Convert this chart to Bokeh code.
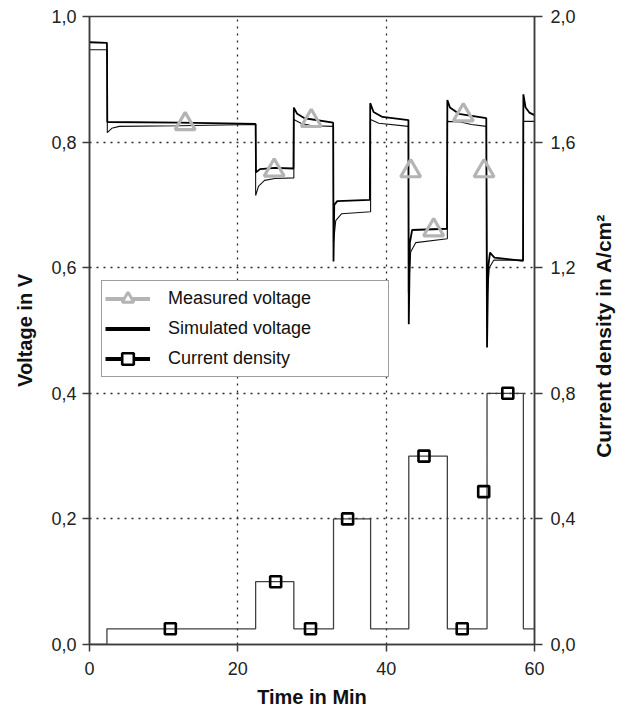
from math import pi

from bokeh.embed import file_html
from bokeh.models import (CustomJSTickFormatter, FixedTicker, Legend,
                          LegendItem, LinearAxis, Range1d)
from bokeh.plotting import figure
from bokeh.resources import INLINE

# ---- measured cell voltage trace (time in min, voltage in V) ----
measured_t = [0, 2.35, 2.4, 12.0, 22.4,
              22.45, 23.0, 25.0, 27.5,
              27.55, 28.0, 29.0, 32.85,
              32.9, 33.0, 33.4, 37.8,
              37.85, 38.3, 39.5, 43.0,
              43.05, 43.2, 43.5, 48.2,
              48.25, 48.6, 49.8, 53.5,
              53.6, 53.75, 54.0, 54.6, 58.45,
              58.5, 58.8, 59.3, 60.0]
measured_v = [0.959, 0.958, 0.832, 0.831, 0.829,
              0.752, 0.757, 0.759, 0.758,
              0.855, 0.845, 0.838, 0.831,
              0.610, 0.700, 0.706, 0.708,
              0.862, 0.848, 0.840, 0.835,
              0.510, 0.640, 0.660, 0.662,
              0.867, 0.855, 0.845, 0.838,
              0.473, 0.600, 0.624, 0.616, 0.611,
              0.876, 0.855, 0.847, 0.843]

# ---- simulated cell voltage ----
simulated_t = [0, 2.4, 2.4, 3.0, 4.0, 12.0, 22.4,
               22.4, 22.8, 23.6, 25.0, 27.55,
               27.55, 28.5, 30.0, 32.9,
               32.9, 33.2, 34.0, 37.9,
               37.9, 39.0, 43.0,
               43.0, 43.3, 44.0, 48.25,
               48.25, 50.0, 51.5, 53.5,
               53.6, 53.9, 54.5, 58.5,
               58.5, 60.0]
simulated_v = [0.947, 0.947, 0.815, 0.822, 0.825, 0.826, 0.828,
               0.715, 0.730, 0.739, 0.742, 0.743,
               0.836, 0.830, 0.826, 0.825,
               0.640, 0.675, 0.686, 0.689,
               0.836, 0.830, 0.825,
               0.560, 0.625, 0.640, 0.646,
               0.833, 0.832, 0.828, 0.825,
               0.550, 0.600, 0.612, 0.612,
               0.833, 0.833]

# ---- measured voltage markers ----
marker_t = [12.9, 24.9, 29.9, 43.3, 46.4, 50.4, 53.2]
marker_v = [0.829, 0.755, 0.834, 0.754, 0.660, 0.843, 0.754]

# ---- load profile: current density steps (A/cm2) ----
step_t = [0, 2.35, 22.4, 27.55, 32.9, 37.9, 43.05, 48.25, 53.6, 58.5, 60.0]
step_j = [0.0, 0.05, 0.2, 0.05, 0.4, 0.05, 0.6, 0.05, 0.8, 0.05, 0.05]

# ---- current density markers ----
cd_marker_t = [10.9, 25.1, 29.8, 34.8, 45.1, 50.25, 53.15, 56.4]
cd_marker_j = [0.05, 0.2, 0.05, 0.4, 0.6, 0.05, 0.487, 0.8]

# ---- axis ticks ----
x_ticks = [0, 20, 40, 60]
v_ticks = [0.0, 0.2, 0.4, 0.6, 0.8, 1.0]
j_ticks = [0.0, 0.4, 0.8, 1.2, 1.6, 2.0]

FONT = "Liberation Sans"
AXIS_COLOR = "#3c3c3c"
TRI_COLOR = "#b4b4b4"
NAN = float("nan")

p = figure(width=629, height=714, output_backend="svg", toolbar_location=None,
           x_range=Range1d(0, 60), y_range=Range1d(0, 1),
           min_border_left=89, min_border_right=91,
           min_border_top=16, min_border_bottom=70)
p.extra_y_ranges = {"cd": Range1d(0, 2)}
p.background_fill_color = "white"
p.border_fill_color = "white"
p.outline_line_color = AXIS_COLOR
p.outline_line_width = 1.5

comma_fmt = CustomJSTickFormatter(code="return tick.toFixed(1).replace('.', ',');")


def style_axis(ax):
    ax.axis_line_color = AXIS_COLOR
    ax.axis_line_width = 1.5
    ax.major_tick_line_color = AXIS_COLOR
    ax.major_tick_line_width = 1.5
    ax.major_tick_out = 7
    ax.major_tick_in = 0
    ax.minor_tick_line_color = None
    ax.major_label_text_font = FONT
    ax.major_label_text_font_size = "18px"
    ax.major_label_text_color = "#222222"
    ax.axis_label_text_font = FONT
    ax.axis_label_text_font_size = "20px"
    ax.axis_label_text_font_style = "bold"
    ax.axis_label_text_color = "#111111"


xa = p.xaxis[0]
xa.ticker = FixedTicker(ticks=x_ticks)
xa.axis_label = "Time in Min"
style_axis(xa)
xa.major_label_standoff = 10
xa.axis_label_standoff = 8

ya = p.yaxis[0]
ya.ticker = FixedTicker(ticks=v_ticks)
ya.formatter = comma_fmt
ya.axis_label = "Voltage in V"
style_axis(ya)
ya.major_label_standoff = 6
ya.axis_label_standoff = 12

# right axis: title reads bottom-to-top; it is anchored at the lower end of
# the axis, so non-breaking spaces lift it to the middle of the frame
right_title = "\u00a0" * 32 + "Current density in A/cm\u00b2"
ra = LinearAxis(y_range_name="cd", ticker=FixedTicker(ticks=j_ticks),
                formatter=comma_fmt)
style_axis(ra)
ra.major_tick_out = 8
ra.major_label_standoff = 8
ra.axis_label = right_title
ra.axis_label_orientation = pi / 2
ra.axis_label_align = "start"
ra.axis_label_text_font_size = "21px"
ra.axis_label_standoff = 25
p.add_layout(ra, "right")

# dotted grid
p.xgrid.ticker = FixedTicker(ticks=[20, 40])
p.ygrid.ticker = FixedTicker(ticks=[0.2, 0.4, 0.6, 0.8])
for g in (p.xgrid[0], p.ygrid[0]):
    g.grid_line_color = "#2a2a2a"
    g.grid_line_width = 1.3
    g.grid_line_dash = "2 5"

# current density step profile
p.step(step_t, step_j, mode="after", y_range_name="cd",
       line_color="#404040", line_width=1.3)

# voltage traces
p.line(simulated_t, simulated_v, line_color="#111111", line_width=1.1)
p.line(measured_t, measured_v, line_color="#000000", line_width=1.8)

# markers
p.scatter(marker_t, marker_v, marker="triangle", size=20,
          line_color=TRI_COLOR, line_width=3.2, fill_color="white", fill_alpha=0)
p.scatter(cd_marker_t, cd_marker_j, marker="square", size=11,
          y_range_name="cd", line_color="#000000", line_width=2.6,
          fill_color="white", fill_alpha=0)

# legend swatches (single NaN point, so nothing shows inside the frame)
leg_meas_line = p.line(x=[NAN], y=[NAN], line_color=TRI_COLOR, line_width=4)
leg_meas_mark = p.scatter(x=[NAN], y=[NAN], marker="triangle",
                          line_color=TRI_COLOR, line_width=3, fill_color="white")
leg_sim_line = p.line(x=[NAN], y=[NAN], line_color="#000000", line_width=4)
leg_cd_line = p.line(x=[NAN], y=[NAN], line_color="#000000", line_width=4)
leg_cd_mark = p.scatter(x=[NAN], y=[NAN], marker="square", line_color="#000000",
                        line_width=2.6, fill_color="white")

legend = Legend(items=[
    LegendItem(label="Measured voltage", renderers=[leg_meas_line, leg_meas_mark]),
    LegendItem(label="Simulated voltage", renderers=[leg_sim_line]),
    LegendItem(label="Current density", renderers=[leg_cd_line, leg_cd_mark]),
], location=(12, 267))
legend.padding = 3
legend.spacing = 1
legend.margin = 0
legend.glyph_width = 45
legend.glyph_height = 29
legend.label_height = 29
legend.label_width = 217
legend.label_standoff = 18
legend.label_text_font = FONT
legend.label_text_font_size = "18px"
legend.label_text_color = "#111111"
legend.border_line_color = AXIS_COLOR
legend.border_line_width = 1.5
legend.background_fill_color = "white"
legend.background_fill_alpha = 1.0
p.add_layout(legend, "center")

open("out.html", "w").write(file_html(p, INLINE))
